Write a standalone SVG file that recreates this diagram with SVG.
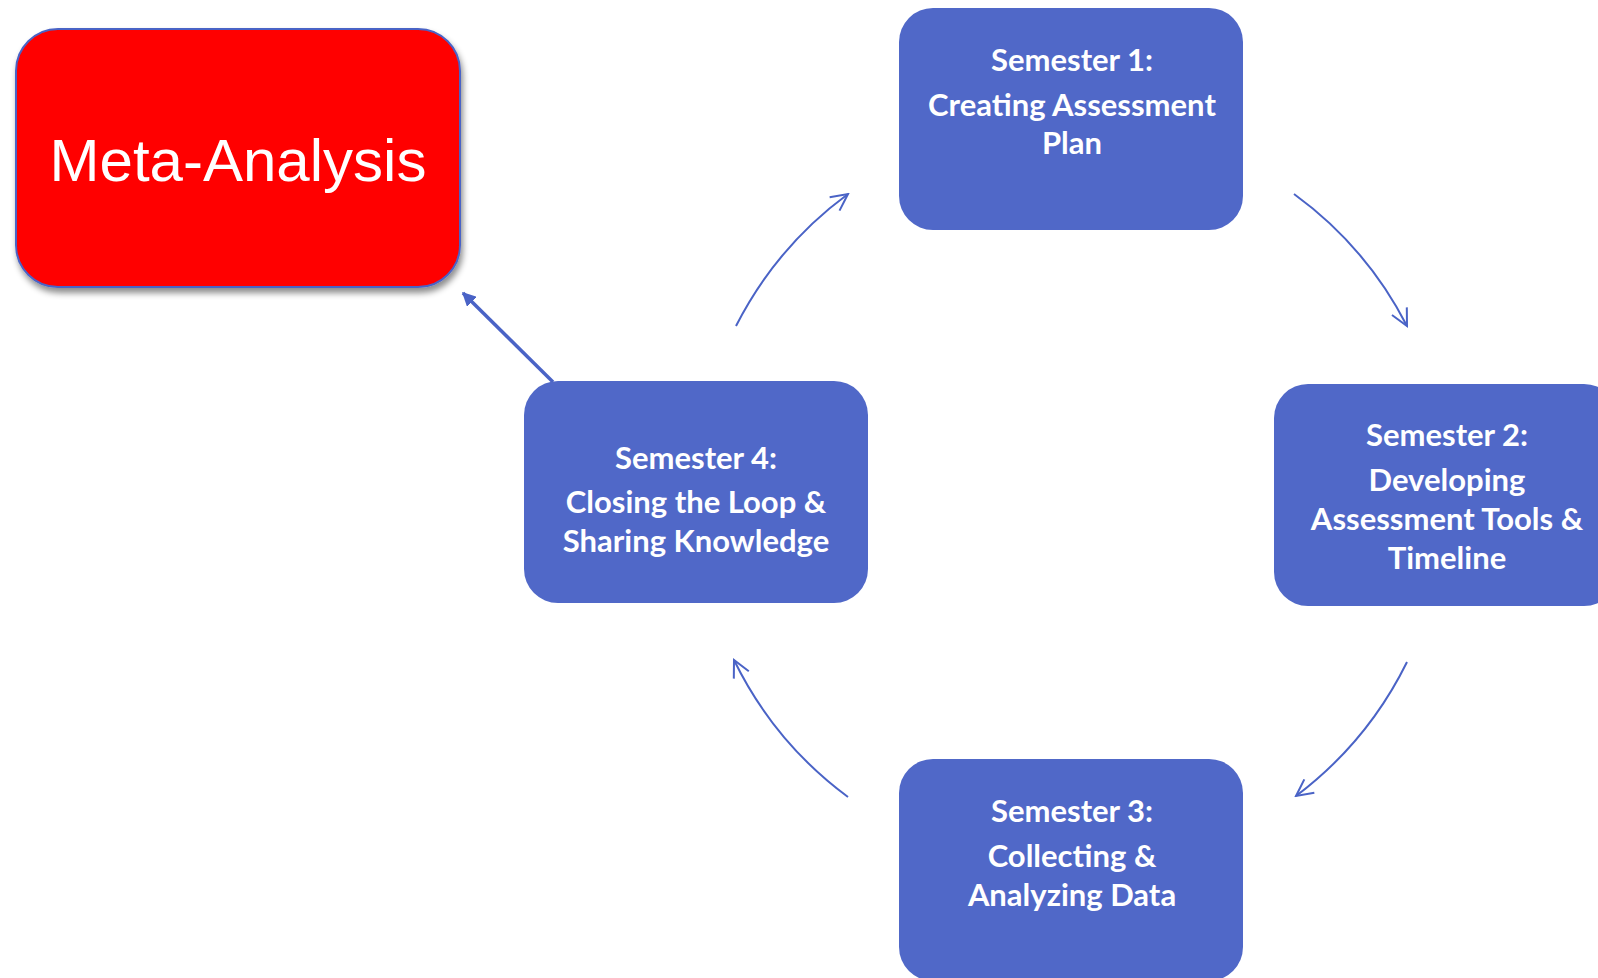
<svg xmlns="http://www.w3.org/2000/svg" width="1598" height="978" viewBox="0 0 1598 978">
  <style>
    .step rect { fill: #5068C8; }
    .step text { fill: #FFFFFF; font-family: Lato, "Open Sans", "Liberation Sans", sans-serif; font-weight: 700; font-size: 31px; text-anchor: middle; }
    .meta text { fill: #FFFFFF; font-family: "Liberation Sans", Arial, sans-serif; font-size: 60px; text-anchor: middle; }
    .cycle path { fill: none; stroke: #4A63C6; stroke-width: 2; }
    .feed { stroke: #4A63C6; stroke-width: 3.5; fill: none; }
  </style>
  <defs>
    <marker id="open-head" viewBox="0 0 12 12" refX="11" refY="6" markerWidth="10" markerHeight="10" markerUnits="strokeWidth" orient="auto">
      <path d="M1,1 L11,6 L1,11" fill="none" stroke="#4A63C6" stroke-width="1.2"/>
    </marker>
    <marker id="solid-head" viewBox="0 0 10 10" refX="9" refY="5" markerWidth="4" markerHeight="4" markerUnits="strokeWidth" orient="auto">
      <path d="M0,0 L10,5 L0,10 Z" fill="#4A63C6"/>
    </marker>
    <filter id="drop" x="-10%" y="-10%" width="125%" height="130%">
      <feDropShadow dx="2" dy="5" stdDeviation="3" flood-color="#000000" flood-opacity="0.45"/>
    </filter>
  </defs>

  <rect width="1598" height="978" fill="#FFFFFF"/>

  <!-- connectors: the four-semester cycle and the feed into the meta-analysis -->
  <g id="connectors">
    <g class="cycle">
      <path d="M1294,194 A375,375 0 0 1 1407,326" marker-end="url(#open-head)"/>
      <path d="M1407,662 A375,375 0 0 1 1296,796" marker-end="url(#open-head)"/>
      <path d="M848,797 A375,375 0 0 1 734,660" marker-end="url(#open-head)"/>
      <path d="M736,326 A375,375 0 0 1 848,194" marker-end="url(#open-head)"/>
    </g>
    <path class="feed" d="M553,382 L463,293" marker-end="url(#solid-head)"/>
  </g>

  <g id="meta-analysis" class="meta">
    <rect x="16" y="29" width="444" height="258" rx="42" ry="42" fill="#FF0000" stroke="#4A63C6" stroke-width="2" filter="url(#drop)"/>
    <text x="238" y="181">Meta-Analysis</text>
  </g>

  <g id="semester-1" class="step">
    <rect x="899" y="8" width="344" height="222" rx="34" ry="34"/>
    <text x="1072" y="71">Semester 1:</text>
    <text x="1072" y="116">Creating Assessment</text>
    <text x="1072" y="154">Plan</text>
  </g>

  <g id="semester-2" class="step">
    <rect x="1274" y="384" width="344" height="222" rx="34" ry="34"/>
    <text x="1447" y="446">Semester 2:</text>
    <text x="1447" y="491">Developing</text>
    <text x="1447" y="530">Assessment Tools &amp;</text>
    <text x="1447" y="569">Timeline</text>
  </g>

  <g id="semester-3" class="step">
    <rect x="899" y="759" width="344" height="222" rx="34" ry="34"/>
    <text x="1072" y="822">Semester 3:</text>
    <text x="1072" y="867">Collecting &amp;</text>
    <text x="1072" y="906">Analyzing Data</text>
  </g>

  <g id="semester-4" class="step">
    <rect x="524" y="381" width="344" height="222" rx="34" ry="34"/>
    <text x="696" y="469">Semester 4:</text>
    <text x="696" y="513">Closing the Loop &amp;</text>
    <text x="696" y="552">Sharing Knowledge</text>
  </g>
</svg>
